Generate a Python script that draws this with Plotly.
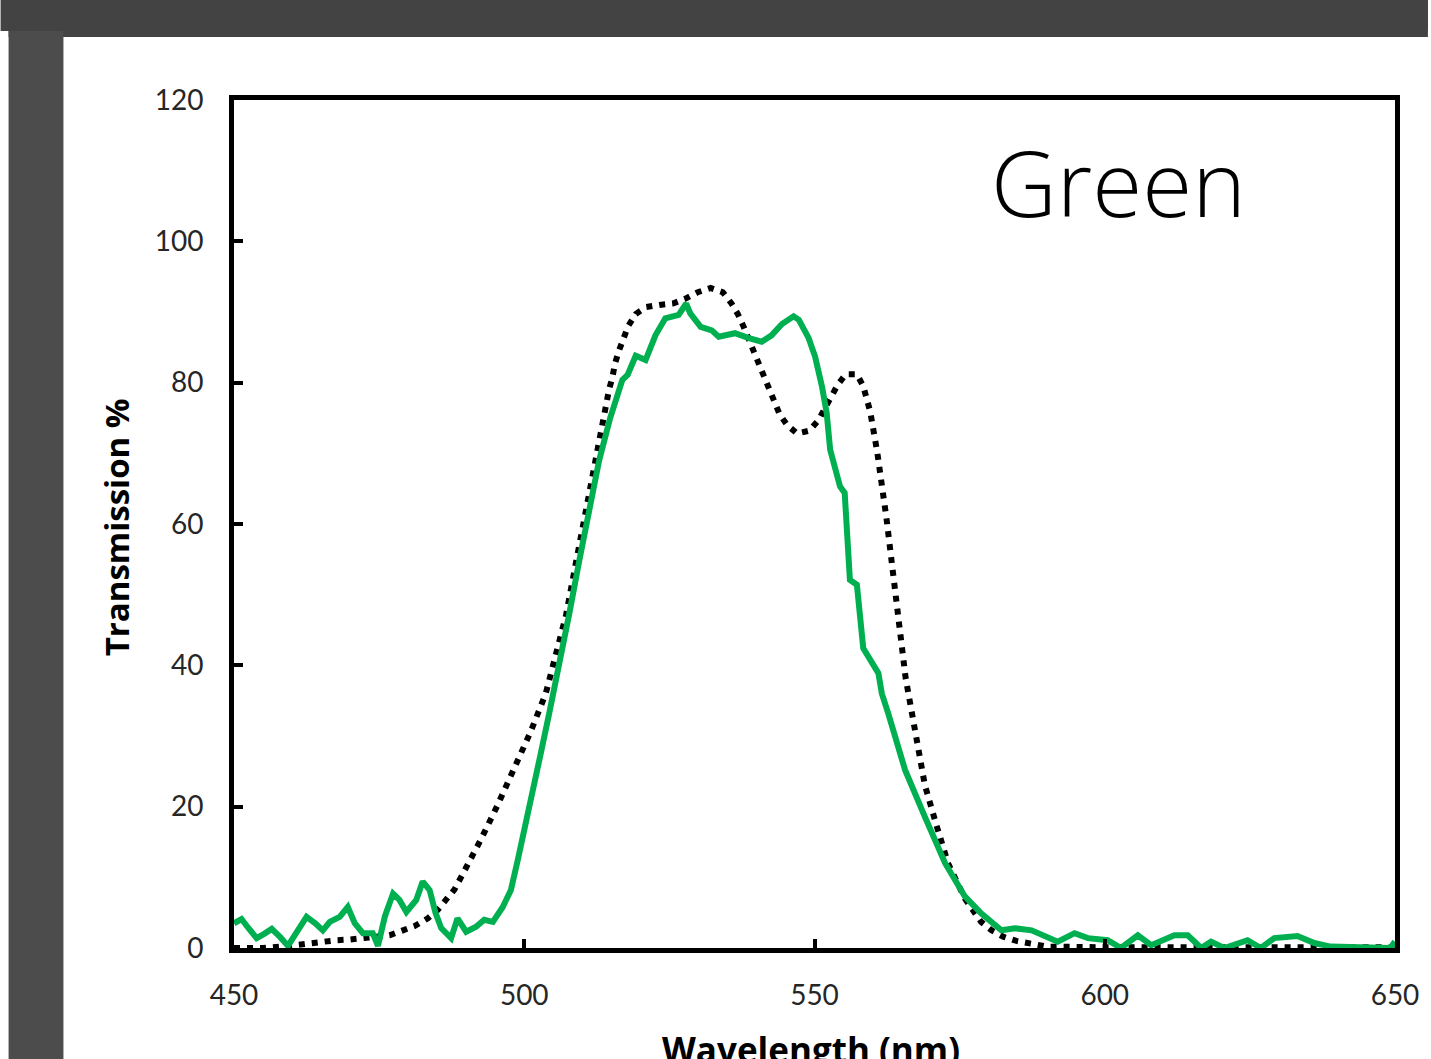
import plotly.graph_objects as go

# ---- data ----
green_wl = [450, 451.3, 452.5, 453.9, 455.2, 456.5, 458, 459.3, 461, 462.5, 464, 465.3, 466.5, 468.2,
            469.6, 470.8, 472.2, 473.9, 474.8, 476, 477.4, 478.5, 479.7, 481.4, 482.5, 483.7, 484.7,
            485.7, 487.4, 488.5, 490, 491.7, 493.1, 494.6, 496.3, 497.7, 498.9, 500, 501.2, 502.6,
            504.3, 506, 507.8, 509.5, 511.2, 512.9, 514.8, 516.9, 517.8, 519.2, 520.9, 522.6, 524.3,
            526.6, 527.9, 528.6, 530.4, 532.3, 533.5, 536.3, 538.7, 540.9, 542.6, 544.4, 546.4, 547.3,
            549, 550.1, 551.3, 552.1, 552.7, 553.6, 554.4, 555.2, 556.1, 557.3, 557.9, 558.4, 561,
            561.6, 562.7, 565.6, 569, 572.5, 575.9, 578.7, 582.2, 584.5, 587.4, 590, 591.9, 594.8,
            597.1, 600.5, 602.8, 605.7, 608, 612, 614.3, 616.6, 618.3, 620.6, 624.6, 626.9, 629.2,
            633.2, 636.1, 638.9, 645, 649.2, 650]
green_T = [3.5, 4.1, 2.8, 1.4, 2.0, 2.7, 1.5, 0.3, 2.5, 4.4, 3.5, 2.5, 3.7, 4.4,
           5.8, 3.5, 2.1, 2.1, 0.3, 4.5, 7.7, 6.8, 5.1, 6.8, 9.4, 8.2, 5.0,
           2.8, 1.4, 4.2, 2.3, 3.0, 4.0, 3.7, 5.8, 8.2, 12.5, 16.5, 21.5, 26.6,
           33.2, 39.8, 47.5, 54.9, 62.0, 69.0, 75.0, 80.4, 81.1, 83.8, 83.2, 86.7, 89.1,
           89.6, 91.2, 89.8, 87.9, 87.4, 86.5, 87.0, 86.3, 85.8, 86.7, 88.3, 89.4, 88.9,
           86.3, 83.7, 79.4, 75.7, 70.5, 67.6, 65.3, 64.4, 52.1, 51.4, 45.9, 42.4, 38.9,
           36.0, 33.2, 25.2, 18.6, 12.0, 7.3, 4.9, 2.5, 2.8, 2.5, 1.5, 0.9, 2.1,
           1.4, 1.1, 0.0, 1.8, 0.4, 1.8, 1.8, 0.0, 0.9, 0.0, 1.1, 0.0, 1.4,
           1.7, 0.7, 0.2, 0.1, 0.0, 0.9]

ref_wl = [450, 455, 459.6, 463, 467.6, 470, 472.2, 474.5, 476.8, 479.1, 481.1, 483.4, 485.1, 486.5,
          488, 489.1, 490.2, 491.4, 492.5, 495.4, 498.3, 501.1, 503.7, 505.4, 507.2, 508.9, 510.6,
          512, 512.9, 513.6, 514.1, 514.6, 515.2, 515.6, 516.3, 517, 517.9, 519.2, 521, 523.3,
          525.6, 527.8, 529.9, 532.1, 534.2, 535.7, 536.8, 537.8, 538.7, 539.5, 540.3, 541.1, 542,
          542.9, 544, 545.3, 547, 549.1, 550.7, 551.8, 552.9, 554, 555.4, 557.3, 558.4, 559, 559.6,
          560, 560.4, 560.8, 562.4, 563.6, 564.6, 565.7, 567.3, 569, 571, 573, 575.9, 578.7, 580.5,
          582.5, 584.8, 587.1, 590, 600, 620, 650]
ref_T = [0, 0, 0.3, 0.7, 1.1, 1.2, 1.4, 1.6, 1.8, 2.5, 3.1, 4.2, 5.4, 6.8,
         8.3, 10.0, 11.6, 13.3, 15.3, 20.2, 25.5, 30.6, 36, 41.5, 47.1, 54.5, 62,
         67.6, 71.4, 75.2, 77.1, 79, 80.8, 82.6, 84.5, 86.3, 88, 89.7, 90.7, 91.0,
         91.2, 91.9, 92.8, 93.4, 92.8, 91.2, 89.7, 87.9, 86.1, 84.4, 82.5, 80.8, 79.1,
         77.2, 75.5, 74, 72.8, 73.2, 74.7, 76.4, 78, 79.7, 81.2, 81.2, 79.5, 77.8, 75.9,
         74, 72.1, 70.2, 60.8, 53.2, 45.7, 38.2, 30.6, 23.1, 17.4, 12, 7, 3.7, 2.5,
         1.6, 1.0, 0.6, 0.2, 0.1, 0.1, 0.1]

x_ticks = [450, 500, 550, 600, 650]
y_ticks = [0, 20, 40, 60, 80, 100, 120]

# ---- figure ----
W, H = 1431, 1059
L, R, T, B = 234, 33, 100, 111
pw, ph = W - L - R, H - T - B

def px(x):
    return (x - L) / pw

def py(y):
    return (H - B - y) / ph

fig = go.Figure()
fig.add_trace(go.Scatter(x=ref_wl, y=ref_T, mode="lines",
                         line=dict(color="black", width=6, dash="6px,7px"),
                         showlegend=False, hoverinfo="skip"))
fig.add_trace(go.Scatter(x=green_wl, y=green_T, mode="lines",
                         line=dict(color="#00B050", width=6),
                         showlegend=False, hoverinfo="skip"))

tickfont = dict(family="Lato, Open Sans, sans-serif", size=28, color="#262626")
fig.update_xaxes(range=[450, 650], tickvals=x_ticks, ticks="inside", ticklen=9, tickwidth=4,
                 tickcolor="black", showline=True, linewidth=5, linecolor="black", mirror=True,
                 showgrid=False, zeroline=False, tickfont=tickfont, ticklabelstandoff=18)
fig.update_yaxes(range=[0, 120], tickvals=y_ticks, ticks="inside", ticklen=9, tickwidth=4,
                 tickcolor="black", showline=True, linewidth=5, linecolor="black", mirror=True,
                 showgrid=False, zeroline=False, tickfont=tickfont, ticklabelstandoff=20)

shapes = [
    dict(type="rect", xref="paper", yref="paper", x0=px(0), x1=px(W), y0=py(31), y1=py(0),
         fillcolor="#434343", line=dict(width=0), layer="below"),
    dict(type="rect", xref="paper", yref="paper", x0=px(8), x1=px(W), y0=py(37), y1=py(0),
         fillcolor="#434343", line=dict(width=0), layer="below"),
    dict(type="rect", xref="paper", yref="paper", x0=px(8), x1=px(63), y0=py(H), y1=py(31),
         fillcolor="#4c4c4c", line=dict(width=0), layer="below"),
]

annotations = [
    dict(text="Green", xref="paper", yref="paper", x=px(991), y=py(182), xanchor="left",
         yanchor="middle", showarrow=False,
         font=dict(family="Open Sans, Lato, sans-serif", size=91, color="black", weight=300)),
    dict(text="Transmission %", xref="paper", yref="paper", x=px(116), y=py(527),
         xanchor="center", yanchor="middle", textangle=-90, showarrow=False,
         font=dict(family="Open Sans, Lato, sans-serif", size=33, color="black", weight=700)),
    dict(text="Wavelength (nm)", xref="paper", yref="paper", x=px(812), y=py(1049),
         xanchor="center", yanchor="middle", showarrow=False,
         font=dict(family="Open Sans, Lato, sans-serif", size=35, color="black", weight=700)),
]

fig.update_layout(width=W, height=H, margin=dict(l=L, r=R, t=T, b=B, pad=0),
                  paper_bgcolor="white", plot_bgcolor="white",
                  shapes=shapes, annotations=annotations)

fig.write_html("out.html", config={"displayModeBar": False},
               post_script="document.body.style.margin='0';document.body.style.overflow='hidden';")
